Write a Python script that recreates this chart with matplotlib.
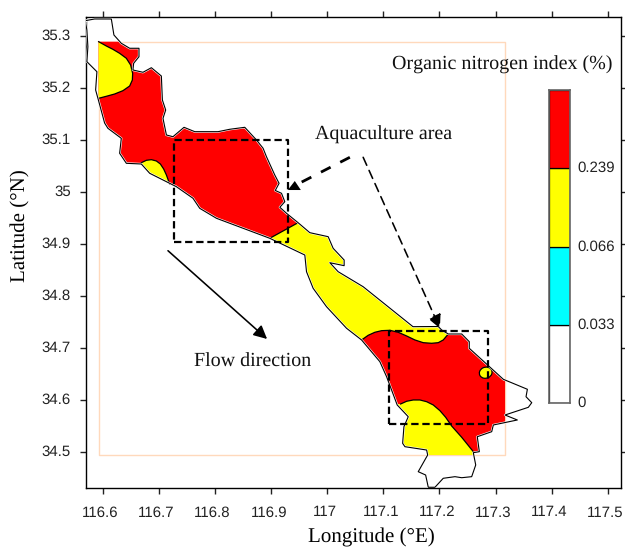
import matplotlib
matplotlib.use('Agg')
import matplotlib.pyplot as plt
from matplotlib.patches import Polygon, Ellipse
from matplotlib.transforms import ScaledTranslation

plt.rcParams['font.family'] = 'Liberation Sans'
plt.rcParams['text.hinting'] = 'no_hinting'
plt.rcParams['text.hinting_factor'] = 1
SERIF = 'Liberation Serif'

# coastline of the river, lon / lat
coast_lon = [116.5686, 116.5852, 116.6150, 116.6196, 116.6328, 116.6477, 116.6643, 116.6643, 116.6548, 116.6535,
             116.6714, 116.6864, 116.7042, 116.7060, 116.7119, 116.7071, 116.7132, 116.7249, 116.7446, 116.7637,
             116.8053, 116.8261, 116.8529, 116.8738, 116.8856, 116.8916, 116.9064, 116.9141, 116.9073, 116.9184,
             116.9243, 116.9154, 116.9273, 116.9480, 116.9689, 117.0016, 117.0105, 117.0301, 117.0301, 117.0046,
             117.0194, 117.0640, 117.1528, 117.1979, 117.2040, 117.2158, 117.2397, 117.2532, 117.2532, 117.3139,
             117.3568, 117.3544, 117.3646, 117.3585, 117.3169, 117.3389, 117.2961, 117.2932, 117.2675, 117.2711,
             117.2604, 117.2647, 117.2575, 117.2397, 117.2277, 117.2068, 117.1920, 117.1801, 117.1754, 117.1622,
             117.1790, 117.1772, 117.1385, 117.1344, 117.1367, 117.1444, 117.1247, 117.1058, 117.0938, 117.0612,
             117.0344, 116.9987, 116.9748, 116.9630, 116.9600, 116.8975, 116.8024, 116.7726, 116.7606, 116.7310,
             116.7190, 116.6834, 116.6685, 116.6418, 116.6298, 116.6328, 116.6089, 116.6030, 116.5911, 116.5870,
             116.5893, 116.5714, 116.5732, 116.5714]
coast_lat = [35.3301, 35.3334, 35.3334, 35.3026, 35.2866, 35.2770, 35.2770, 35.2608, 35.2481, 35.2352,
             35.2308, 35.2396, 35.2236, 35.1775, 35.1582, 35.1422, 35.1101, 35.1068, 35.1249, 35.1165,
             35.1165, 35.1211, 35.1249, 35.1005, 35.0845, 35.0683, 35.0331, 35.0171, 35.0033, 34.9979,
             34.9817, 34.9710, 34.9594, 34.9413, 34.9221, 34.9144, 34.8920, 34.8695, 34.8586, 34.8643,
             34.8470, 34.8181, 34.7412, 34.7415, 34.7348, 34.7271, 34.7271, 34.7123, 34.6996, 34.6399,
             34.6207, 34.6064, 34.5949, 34.5860, 34.5712, 34.5616, 34.5520, 34.5391, 34.5294, 34.5006,
             34.4987, 34.4750, 34.4525, 34.4505, 34.4525, 34.4494, 34.4321, 34.4321, 34.4557, 34.4621,
             34.4942, 34.5038, 34.5102, 34.5167, 34.5487, 34.5679, 34.5905, 34.6449, 34.6738, 34.7156,
             34.7381, 34.7796, 34.8151, 34.8470, 34.8791, 34.9113, 34.9498, 34.9690, 34.9883, 35.0106,
             35.0171, 35.0364, 35.0543, 35.0556, 35.0749, 35.1037, 35.1230, 35.1332, 35.1807, 35.1967,
             35.2319, 35.2512, 35.2800, 35.3122]

# extent of the interpolated field
field_lon = [116.5923, 117.3170, 117.3170, 116.5923, 116.5923]
field_lat = [35.2897, 35.2897, 34.4942, 34.4942, 35.2897]

# class boundaries (0.239 contour)
nw_lon = [116.5923, 116.6061, 116.6178, 116.6298, 116.6418, 116.6494, 116.6530, 116.6525, 116.6477, 116.6357,
          116.6209, 116.6061, 116.5923]
nw_lat = [35.2897, 35.2814, 35.2750, 35.2673, 35.2577, 35.2448, 35.2288, 35.2160, 35.2044, 35.1954,
          35.1890, 35.1846, 35.1807]
sw_lon = [116.6685, 116.6775, 116.6864, 116.6953, 116.7024, 116.7083, 116.7132, 116.7190]
sw_lat = [35.0568, 35.0614, 35.0626, 35.0601, 35.0543, 35.0447, 35.0331, 35.0158]
mid_lon = [116.9480, 116.8975]
mid_lat = [34.9413, 34.9113]
down_lon = [117.0612, 117.0730, 117.0849, 117.0969, 117.1117, 117.1265, 117.1415, 117.1563, 117.1711, 117.1861,
            117.1979, 117.2068, 117.2158]
down_lat = [34.7156, 34.7246, 34.7304, 34.7335, 34.7342, 34.7304, 34.7233, 34.7156, 34.7104, 34.7092,
            34.7104, 34.7156, 34.7271]
south_lon = [117.1308, 117.1415, 117.1533, 117.1652, 117.1772, 117.1890, 117.2009, 117.2111, 117.2218, 117.2397,
             117.2604]
south_lat = [34.5924, 34.5976, 34.6001, 34.6001, 34.5968, 34.5905, 34.5795, 34.5668, 34.5500, 34.5283, 34.5006]

# aquaculture boxes: lon0, lon1, lat0, lat1
box_a = [116.7262, 116.9302, 34.9036, 35.1005]
box_b = [117.1105, 117.2871, 34.5533, 34.7335]

# upright head of the thick arrow
head_lon = [116.9297, 116.9529, 116.9421]
head_lat = [35.0042, 35.0042, 35.0216]

x_ticks = [116.6, 116.7, 116.8, 116.9, 117.0, 117.1, 117.2, 117.3, 117.4, 117.5]
x_labels = ['116.6', '116.7', '116.8', '116.9', '117', '117.1', '117.2', '117.3', '117.4', '117.5']
y_ticks = [34.5, 34.6, 34.7, 34.8, 34.9, 35.0, 35.1, 35.2, 35.3]
y_labels = ['34.5', '34.6', '34.7', '34.8', '34.9', '35', '35.1', '35.2', '35.3']

cb_colors = ['white', 'cyan', 'yellow', 'red']
cb_labels = ['0', '0.033', '0.066', '0.239']

W, H = 625, 547
fig = plt.figure(figsize=(W / 100, H / 100), dpi=100)
ax = fig.add_axes([85.7 / W, 1 - 488 / H, 535 / W, 471 / H])
ax.set_xlim(116.5693, 117.5232)
ax.set_ylim(34.4307, 35.3372)

ax.plot(field_lon, field_lat, color='#FFD9BC', lw=1, zorder=1)

coast = Polygon(list(zip(coast_lon, coast_lat)), closed=True, fc='none', ec='none', zorder=2)
ax.add_patch(coast)

clipped = []
clipped += ax.fill(field_lon, field_lat, color='yellow', lw=0, zorder=2)
# upstream red area, outer corners are outside the coast or on the field edge
clipped += ax.fill([116.5923, 116.97, 116.97] + mid_lon + [116.86, 116.5923],
                   [35.2897, 35.2897, 34.93] + mid_lat + [34.89, 34.89], color='red', lw=0, zorder=3)
clipped += ax.fill(nw_lon, nw_lat, color='yellow', lw=0, zorder=4)
clipped += ax.fill(sw_lon + [116.7190, 116.6685], sw_lat + [34.98, 34.98], color='yellow', lw=0, zorder=4)
# downstream red area
clipped += ax.fill([117.04] + down_lon + [117.23, 117.3170, 117.3170, 117.08],
                   [34.70] + down_lat + [34.76, 34.76, 34.4942, 34.4942], color='red', lw=0, zorder=3)
clipped += ax.fill(south_lon + [117.2650, 117.10, 117.10], south_lat + [34.4942, 34.4942, 34.5924],
                   color='yellow', lw=0, zorder=4)
for art in clipped:
    art.set_clip_path(coast)

for xs, ys in [(nw_lon, nw_lat), (sw_lon, sw_lat), (mid_lon, mid_lat), (down_lon, down_lat), (south_lon, south_lat)]:
    ax.plot(xs, ys, color='black', lw=0.9, zorder=5)

ax.add_patch(Ellipse((117.2825, 34.6526), 0.0232, 0.021, angle=30, fc='yellow', ec='black', lw=0.9, zorder=5))

# thin white rim between field and coast
ax.plot(coast_lon + coast_lon[:1], coast_lat + coast_lat[:1], color='white', lw=1.6, zorder=5.5)
ax.plot(coast_lon + coast_lon[:1], coast_lat + coast_lat[:1], color='black', lw=0.8, zorder=6)

for b in [box_a, box_b]:
    ax.plot([b[0], b[1], b[1], b[0], b[0]], [b[2], b[2], b[3], b[3], b[2]],
            color='black', lw=1.6, ls=(0, (3.3, 1.7)), zorder=7)

ax.plot([117.0403, 116.9511], [35.0672, 35.0177], color='black', lw=2, ls=(0, (3.9, 3.9)), zorder=8)
ax.fill(head_lon, head_lat, color='black', lw=0, zorder=8)
ax.annotate('', xy=(117.2009, 34.7381), xytext=(117.0640, 35.0672), zorder=8,
            arrowprops=dict(arrowstyle='-|>', color='black', lw=1.15, ls=(0, (5.5, 3.5)), mutation_scale=20, shrinkA=0, shrinkB=0))
ax.annotate('', xy=(116.8927, 34.7175), xytext=(116.7160, 34.8874), zorder=8,
            arrowprops=dict(arrowstyle='-|>', color='black', lw=1.15, mutation_scale=20, shrinkA=0, shrinkB=0))

ax.text(117.0997, 35.1101, 'Aquaculture area', family=SERIF, fontsize=14.4, ha='center', va='center', color='#111111')
ax.text(116.8668, 34.6735, 'Flow direction', family=SERIF, fontsize=14.4, ha='center', va='center', color='#111111')
ax.text(117.3120, 35.2448, 'Organic nitrogen index (%)', family=SERIF, fontsize=14.4, ha='center', va='center', color='#111111')

ax.set_xticks(x_ticks, x_labels)
ax.set_yticks(y_ticks, y_labels)
ax.tick_params(axis='both', which='both', direction='out', length=4.6, width=1, labelsize=11,
               top=True, right=True, colors='#222222')
ax.tick_params(axis='x', pad=8)
ax.tick_params(axis='y', pad=6)
for s in ax.spines.values():
    s.set_linewidth(1)

# tick labels sit a little off their ticks in the original
for lab in ax.get_xticklabels():
    lab.set_transform(lab.get_transform() + ScaledTranslation(-2.5 / 100, 0, fig.dpi_scale_trans))
for lab in ax.get_yticklabels():
    lab.set_transform(lab.get_transform() + ScaledTranslation(0, 1.5 / 100, fig.dpi_scale_trans))

fig.text(371 / W, 1 - 537.5 / H, 'Longitude (°E)', family=SERIF, fontsize=15.2, ha='center', va='center')
fig.text(20.5 / W, 1 - 226 / H, 'Latitude (°N)', family=SERIF, fontsize=15.2, ha='center', va='center', rotation=90)

# legend bar, equal height per class
cax = fig.add_axes([549.3 / W, 1 - 403.3 / H, 21 / W, 313.3 / H])
cax.bar([0] * len(cb_colors), [1] * len(cb_colors), bottom=range(len(cb_colors)), width=1, color=cb_colors,
        edgecolor='black', lw=0.9)
cax.set_xlim(-0.5, 0.5)
cax.set_ylim(0, len(cb_colors))
cax.set_xticks([])
cax.yaxis.tick_right()
cax.set_yticks(range(len(cb_labels)), cb_labels)
cax.tick_params(axis='y', length=0, pad=5, labelsize=11, colors='#222222')
for lab in cax.get_yticklabels():
    lab.set_transform(lab.get_transform() + ScaledTranslation(0, 1.5 / 100, fig.dpi_scale_trans))
for s in cax.spines.values():
    s.set_color('#666666')
    s.set_linewidth(1.2)

fig.savefig('out.png', dpi=100)
